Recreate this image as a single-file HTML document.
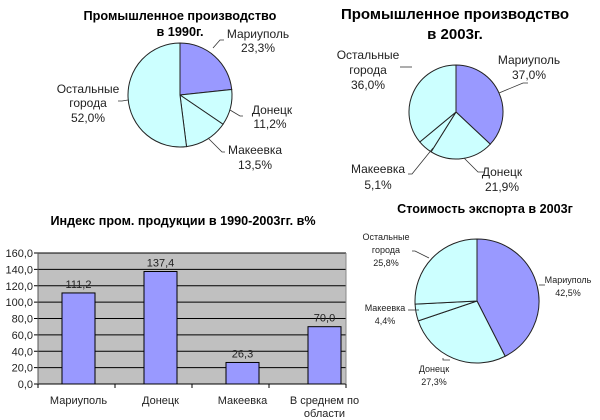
<!DOCTYPE html>
<html><head><meta charset="utf-8"><style>
body{margin:0;background:#fff}
svg{display:block;font-family:"Liberation Sans",Arial,sans-serif}
</style></head><body>
<svg id="s" width="600" height="420" viewBox="0 0 600 420">
<g font-weight="bold" fill="#000" text-anchor="middle">
<text x="180" y="20" font-size="12.7">Промышленное производство</text>
<text x="180" y="36" font-size="12.7">в 1990г.</text>
<text x="455" y="19" font-size="15">Промышленное производство</text>
<text x="455" y="39" font-size="15">в 2003г.</text>
<text x="183" y="225" font-size="12.6">Индекс пром. продукции в 1990-2003гг. в%</text>
<text x="485" y="213" font-size="12.6">Стоимость экспорта в 2003г</text>
</g>
<g id="bars"></g>
<g id="pies"></g>
<g fill="#222" font-size="12" text-anchor="middle">
<text x="258" y="38">Мариуполь</text><text x="258" y="52">23,3%</text>
<text x="272" y="114">Донецк</text><text x="270" y="128">11,2%</text>
<text x="255" y="154">Макеевка</text><text x="255" y="169">13,5%</text>
<text x="88" y="93">Остальные</text><text x="88" y="107">города</text><text x="88" y="122">52,0%</text>
<text x="368" y="59">Остальные</text><text x="368" y="74">города</text><text x="368" y="89">36,0%</text>
<text x="529" y="64">Мариуполь</text><text x="529" y="79">37,0%</text>
<text x="502" y="176">Донецк</text><text x="502" y="191">21,9%</text>
<text x="378" y="173">Макеевка</text><text x="378" y="189">5,1%</text>
</g>
<g fill="#222" font-size="9" text-anchor="middle">
<text x="386" y="240">Остальные</text><text x="386" y="253">города</text><text x="386" y="266">25,8%</text>
<text x="568" y="283">Мариуполь</text><text x="568" y="296">42,5%</text>
<text x="385" y="311">Макеевка</text><text x="385" y="324">4,4%</text>
<text x="434" y="372">Донецк</text><text x="434" y="385">27,3%</text>
</g>
<g stroke="#333" fill="none" stroke-width="0.8">
<polyline points="213,48 220,40 224,40"/>
<polyline points="230,110 240,116 243,116"/>
<polyline points="208,138 222,152 225,152"/>
<polyline points="128,100 122,101 118,101"/>
<polyline points="412,67 404,67 400,67"/>
<polyline points="499,93 523,83 528,83"/>
<polyline points="464,158 478,172 484,172"/>
<polyline points="433,148 412,174 408,174"/>
<polyline points="429,258 415,251 412,251"/>
<polyline points="539,285 545,285"/>
<polyline points="419,310 408,310"/>
<polyline points="443,358 443,360 450,360"/>
</g>
</svg>
<script>
var NS="http://www.w3.org/2000/svg",s=document.getElementById('s');
function el(p,t,a){var e=document.createElementNS(NS,t);for(var k in a)e.setAttribute(k,a[k]);p.appendChild(e);return e;}
var pies=document.getElementById('pies');
function pie(cx,cy,r,vals){var a=0;vals.forEach(function(v,i){var a1=a+v/100*2*Math.PI;
var x0=cx+r*Math.sin(a),y0=cy-r*Math.cos(a),x1=cx+r*Math.sin(a1),y1=cy-r*Math.cos(a1);
el(pies,'path',{d:'M'+cx+','+cy+'L'+x0+','+y0+'A'+r+','+r+' 0 '+(a1-a>Math.PI?1:0)+' 1 '+x1+','+y1+'Z',fill:i==0?'#9999ff':'#ccffff',stroke:'#222','stroke-width':1});a=a1;});}
pie(180,95,52,[23.3,11.2,13.5,52]);
pie(456,112,47,[37,21.9,5.1,36]);
pie(477,301,62,[42.5,27.3,4.4,25.8]);
var b=document.getElementById('bars');
var L=38,R=346,T=253,B=384;
el(b,'rect',{x:L,y:T,width:R-L,height:B-T,fill:'#c0c0c0'});
for(var i=0;i<=8;i++){var y=B-i*(B-T)/8;
el(b,'line',{x1:L-4,x2:R,y1:y,y2:y,stroke:'#000','stroke-width':1});
var t=el(b,'text',{x:L-5,y:y+4,'font-size':11,'text-anchor':'end',fill:'#222'});t.textContent=(i*20)+',0';}
el(b,'line',{x1:L,x2:L,y1:T,y2:B,stroke:'#555'});
el(b,'line',{x1:R,x2:R,y1:T,y2:B,stroke:'#888'});
var vals=[111.2,137.4,26.3,70],lab=['111,2','137,4','26,3','70,0'],xs=[62,144,226,308];
for(var i=0;i<4;i++){var h=vals[i]/160*(B-T);
el(b,'rect',{x:xs[i],y:B-h,width:33,height:h,fill:'#9999ff',stroke:'#000','stroke-width':1});
var t=el(b,'text',{x:xs[i]+16.5,y:B-h-5,'font-size':11,'text-anchor':'middle',fill:'#222'});t.textContent=lab[i];
el(b,'line',{x1:L+i*77,x2:L+i*77,y1:B,y2:B+4,stroke:'#000'});}
el(b,'line',{x1:R,x2:R,y1:B,y2:B+4,stroke:'#000'});
var cl=[['Мариуполь'],['Донецк'],['Макеевка'],['В среднем по','области']];
for(var i=0;i<4;i++)cl[i].forEach(function(s,j){var t=el(b,'text',{x:xs[i]+16.5,y:404+j*13,'font-size':11,'text-anchor':'middle',fill:'#222'});t.textContent=s;});
</script>
</body></html>
